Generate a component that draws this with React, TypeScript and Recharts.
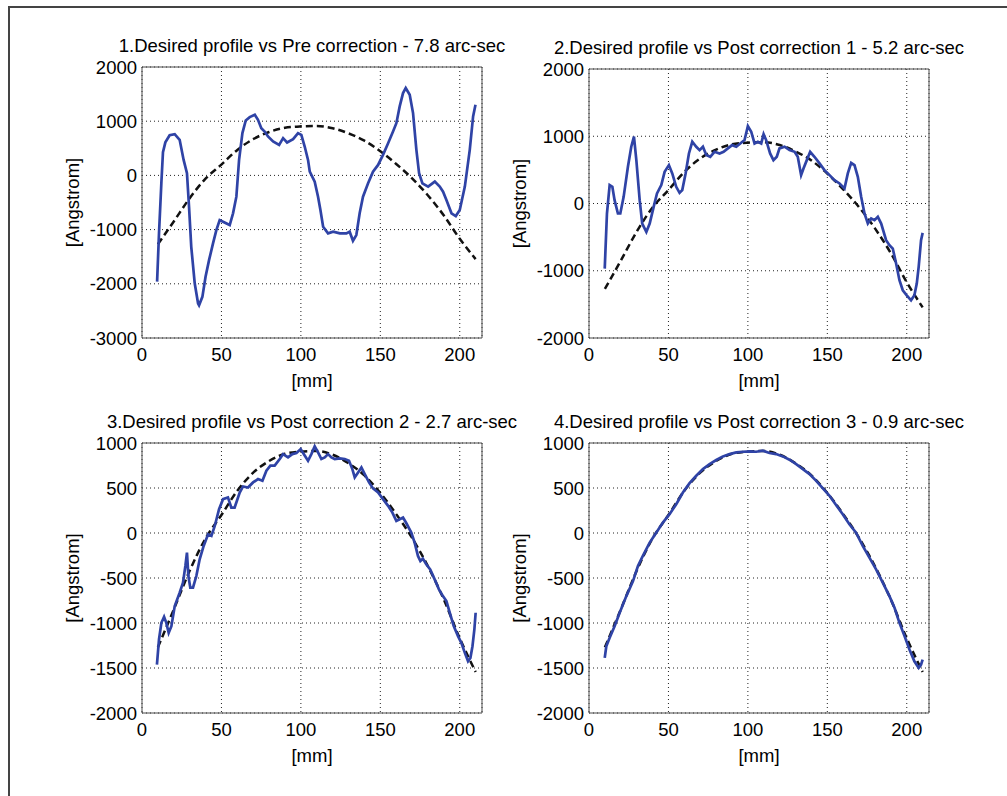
import { LineChart, Line, XAxis, YAxis, CartesianGrid } from 'recharts';

type Pt = [number, number];

// x ticks shared by all four panels
const xTicks = [0, 50, 100, 150, 200];
const yTicksPre = [-3000, -2000, -1000, 0, 1000, 2000];
const yTicksPost1 = [-2000, -1000, 0, 1000, 2000];
const yTicksFine = [-2000, -1500, -1000, -500, 0, 500, 1000];

const titles = [
    '1.Desired profile vs Pre correction - 7.8 arc-sec',
    '2.Desired profile vs Post correction 1 - 5.2 arc-sec',
    '3.Desired profile vs Post correction 2 - 2.7 arc-sec',
    '4.Desired profile vs Post correction 3 - 0.9 arc-sec',
];

// desired profile (dashed), [mm, Angstrom]
const desired: Pt[] = [
    [10, -1270], [20, -850], [30, -420], [40, -60], [50, 200], [60, 470], [70, 670],
    [80, 800], [90, 880], [100, 905], [110, 912], [120, 870], [130, 775], [140, 640],
    [150, 445], [160, 210], [170, -55], [180, -370], [190, -740], [200, -1170], [210, -1545],
];

const preCorrection: Pt[] = [
    [9.5, -1960], [10.7, -1070], [12.2, -130], [13.2, 430], [14.7, 610], [17.4, 740], [20.6, 760],
    [23.7, 656], [26.2, 286], [28.3, 40], [29.6, -577], [31, -1317], [33.2, -1995], [35.3, -2365],
    [35.9, -2396], [38, -2241], [40, -1870], [42.2, -1564], [44.7, -1255], [46.8, -1009], [48.9, -824],
    [51, -855], [55.2, -916], [57.3, -700], [59.4, -392], [61.1, 286], [63.2, 780], [65.3, 1014],
    [67.8, 1075], [71, 1118], [73, 1026], [75.1, 872], [77.2, 810], [79.3, 718], [82.5, 625],
    [86.3, 563], [88.8, 687], [91.3, 607], [95.1, 668], [98.2, 779], [100.3, 748], [102.4, 533],
    [104.5, 286], [105.6, 70], [108.7, -115], [110.8, -392], [112.3, -639], [114, -947], [117.1, -1070],
    [120.3, -1039], [124.5, -1070], [128.6, -1070], [130.7, -1039], [132.8, -1206], [134.9, -1101],
    [137, -700], [139.1, -392], [142.3, -146], [145.4, 70], [148.6, 193], [151.7, 378], [154.9, 594],
    [158, 810], [160.1, 964], [162.2, 1273], [164.3, 1519], [166, 1612], [168.5, 1488], [170.6, 1149],
    [172.7, 471], [174.4, 40], [176.5, -146], [180.1, -207], [184.3, -115], [187.4, -207], [189.5, -300],
    [191.6, -454], [194.8, -700], [197.5, -750], [200, -639], [203.2, -207], [206.3, 471], [208.4, 1088],
    [209.9, 1303],
];

const postCorrection1: Pt[] = [
    [9.9, -968], [11.3, -149], [13, 273], [14.7, 248], [16.1, 50], [18.2, -149], [19.7, -149],
    [21.8, 99], [24.5, 546], [26.6, 844], [28.3, 993], [29.8, 645], [31.9, 50], [33.5, -298],
    [36.1, -422], [38.2, -298], [40.7, -50], [42.8, 149], [45.5, 273], [47.6, 471], [50.3, 571],
    [52.4, 447], [54.9, 248], [57, 159], [58.7, 199], [60.8, 447], [62.9, 744], [65, 918],
    [67.5, 844], [69.6, 794], [71.7, 844], [73.8, 720], [76.3, 695], [79, 769], [82.2, 744],
    [84.7, 769], [87.4, 819], [90.1, 868], [92.7, 844], [95.2, 893], [97.9, 943], [100, 1151],
    [102.1, 1067], [104.2, 893], [106.3, 918], [108.4, 893], [109.9, 1032], [111.5, 943], [114, 744],
    [116.1, 645], [118.2, 695], [119.9, 819], [123.1, 844], [126.2, 794], [129.4, 769], [131.4, 695],
    [133.5, 422], [135, 521], [137.1, 645], [139.2, 769], [141.9, 695], [145.1, 596], [148.2, 496],
    [151.4, 422], [154.5, 347], [157.7, 298], [160.8, 223], [162.9, 447], [165, 605], [167.1, 571],
    [169.2, 397], [171.3, 99], [173.4, -149], [175.5, -298], [177.6, -223], [179.7, -248], [181.8, -198],
    [183.9, -298], [187, -546], [189.1, -620], [191.2, -670], [193.3, -893], [195.4, -1141], [197.5, -1290],
    [200, -1365], [202.7, -1439], [204.8, -1365], [206.3, -1191], [207.5, -943], [209, -546], [210, -437],
];

const postCorrection2: Pt[] = [
    [9.4, -1462], [10.7, -1183], [12.2, -998], [13.9, -931], [15.3, -998], [16.8, -1109], [18.5, -1035],
    [20.6, -812], [23.7, -664], [25.8, -552], [27.3, -366], [28.3, -218], [29.2, -478], [30.4, -608],
    [32.1, -608], [34.2, -478], [36.3, -292], [38.8, -144], [41.6, -15], [43.7, -33], [45.8, 78],
    [48.5, 265], [51, 376], [54.1, 395], [56.2, 283], [58.3, 283], [61.5, 450], [63.6, 517],
    [66.7, 506], [69.9, 562], [73, 599], [75.8, 580], [78.3, 692], [80.8, 748], [83.5, 748],
    [86.7, 822], [88.8, 877], [91.9, 840], [94.6, 877], [97.2, 889], [99.9, 933], [101.8, 877],
    [104.5, 803], [106.6, 877], [108.7, 963], [110.8, 896], [112.9, 822], [115, 840], [117.1, 877],
    [119.2, 840], [121.3, 822], [124.5, 829], [127.6, 822], [130.3, 803], [132.4, 710], [133.9, 618],
    [136, 673], [138.1, 729], [140.2, 655], [142.9, 562], [145.4, 495], [148.6, 450], [151.7, 376],
    [154.9, 302], [157.6, 227], [160.1, 134], [162.2, 152], [164.3, 171], [166.4, 108], [169.5, 4],
    [171.6, -107], [173.7, -255], [175.2, -311], [176.8, -285], [178.9, -348], [181.4, -404], [184.2, -515],
    [186.9, -626], [189.4, -701], [191.6, -756], [193.7, -886], [196.2, -1035], [198.9, -1146], [201, -1221],
    [203.2, -1332], [205.2, -1425], [206.7, -1388], [208, -1258], [209.2, -1072], [210, -886],
];

const postCorrection3: Pt[] = [
    [9.9, -1388], [10.9, -1258], [13, -1165], [16.1, -1035], [19.3, -886], [23.5, -701], [27.7, -534],
    [30.8, -367], [33.9, -255], [38.2, -107], [42.3, 4], [46.5, 116], [50.7, 209], [54.9, 320],
    [59.1, 450], [63.3, 554], [67.5, 636], [71.7, 710], [75.9, 766], [80.1, 811], [84.3, 851],
    [88.5, 877], [92.7, 896], [96.9, 903], [101.1, 907], [105.2, 903], [109.4, 915], [113.6, 889],
    [117.8, 877], [122, 851], [126.2, 814], [130.4, 766], [134.6, 710], [138.8, 655], [143, 580],
    [147.2, 495], [151.4, 413], [155.6, 309], [159.7, 209], [163.9, 97], [168.1, 4], [172.3, -144],
    [176.5, -274], [180.7, -404], [184.9, -552], [189.1, -701], [192.3, -831], [195.4, -998], [198.6, -1146],
    [201.7, -1295], [204.8, -1425], [207.5, -1499], [209, -1462], [210, -1406],
];

const toRows = (pts: Pt[]) => pts.map(([x, y]) => ({ x, y }));

const FONT = 18.5;
const AXIS = '#4a4a4a';

interface PanelProps {
    title: string;
    measured: Pt[];
    yDomain: [number, number];
    yTicks: number[];
    left: number;
    top: number;
    plotH: number;
}

function Panel({ title, measured, yDomain, yTicks, left, top, plotH }: PanelProps) {
    const yW = 140;
    const topH = 44;
    const bottomH = 84;
    const mr = 45;
    const width = yW + 340 + 1 + mr;
    const height = 2 + topH + plotH + bottomH + 2;
    return (
        <div style={{ position: 'absolute', left: left - yW, top: top - topH - 2 }}>
            <LineChart width={width} height={height} margin={{ top: 2, right: mr, bottom: 2, left: 0 }}>
                <CartesianGrid stroke="#222" strokeDasharray="1 3" />
                <XAxis
                    type="number"
                    dataKey="x"
                    domain={[0, 214]}
                    ticks={xTicks}
                    allowDataOverflow
                    height={bottomH}
                    tickLine={false}
                    tickSize={8}
                    tickMargin={2}
                    axisLine={{ stroke: AXIS }}
                    tick={{ fill: '#000', fontSize: FONT }}
                    label={{ value: '[mm]', position: 'center', fill: '#000', fontSize: FONT }}
                />
                <XAxis
                    xAxisId="top"
                    orientation="top"
                    type="number"
                    domain={[0, 214]}
                    height={topH}
                    tick={false}
                    tickLine={false}
                    axisLine={{ stroke: AXIS }}
                    label={{ value: title, position: 'center', fill: '#000', fontSize: FONT }}
                />
                <YAxis
                    type="number"
                    domain={yDomain}
                    ticks={yTicks}
                    allowDataOverflow
                    width={yW}
                    tickLine={false}
                    tickSize={3}
                    tickMargin={2}
                    axisLine={{ stroke: AXIS }}
                    tick={{ fill: '#000', fontSize: FONT }}
                    label={{ value: '[Angstrom]', angle: -90, position: 'center', fill: '#000', fontSize: FONT }}
                />
                <YAxis
                    yAxisId="right"
                    orientation="right"
                    type="number"
                    domain={yDomain}
                    width={1}
                    tick={false}
                    tickLine={false}
                    axisLine={{ stroke: AXIS }}
                />
                <Line
                    data={toRows(desired)}
                    dataKey="y"
                    type="monotone"
                    stroke="#111"
                    strokeWidth={2.5}
                    strokeDasharray="7 4"
                    dot={false}
                    isAnimationActive={false}
                />
                <Line
                    data={toRows(measured)}
                    dataKey="y"
                    type="linear"
                    stroke="#2f43a6"
                    strokeWidth={2.7}
                    dot={false}
                    isAnimationActive={false}
                />
            </LineChart>
        </div>
    );
}

export default function App() {
    return (
        <div
            style={{
                position: 'absolute',
                left: 0,
                top: 0,
                width: 1007,
                height: 796,
                background: '#fff',
                fontFamily: '"Liberation Sans", Arial, sans-serif',
                overflow: 'hidden',
            }}
        >
            <div
                style={{
                    position: 'absolute',
                    left: 8,
                    top: 6,
                    width: 1010,
                    height: 800,
                    borderTop: '2px solid #444',
                    borderLeft: '2px solid #444',
                }}
            />
            <Panel title={titles[0]} measured={preCorrection} yDomain={[-3000, 2000]} yTicks={yTicksPre} left={142} top={67} plotH={271} />
            <Panel title={titles[1]} measured={postCorrection1} yDomain={[-2000, 2000]} yTicks={yTicksPost1} left={589} top={69} plotH={269} />
            <Panel title={titles[2]} measured={postCorrection2} yDomain={[-2000, 1000]} yTicks={yTicksFine} left={142} top={443} plotH={270} />
            <Panel title={titles[3]} measured={postCorrection3} yDomain={[-2000, 1000]} yTicks={yTicksFine} left={589} top={443} plotH={270} />
        </div>
    );
}
